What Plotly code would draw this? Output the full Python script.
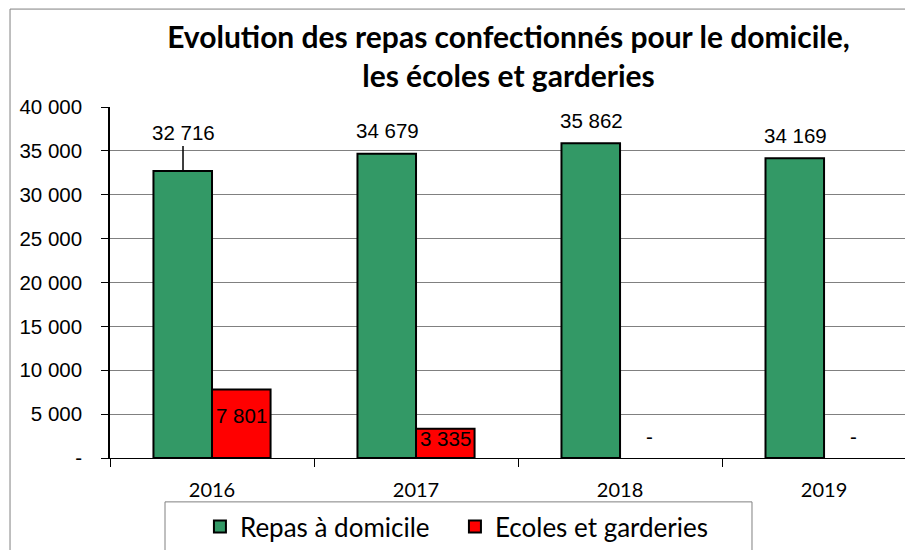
import plotly.graph_objects as go

years = ["2016", "2017", "2018", "2019"]
repas_domicile = [32716, 34679, 35862, 34169]
ecoles_garderies = [7801, 3335, 0, 0]
y_ticks = [0, 5000, 10000, 15000, 20000, 25000, 30000, 35000, 40000]


def fmt(v):
    return "-" if v == 0 else f"{v:,}".replace(",", " ")


GREEN = "#339966"
RED = "#FF0000"
ARIAL = "Liberation Sans, Arial"
CAL = "Lato, Open Sans"

fig = go.Figure()
fig.add_trace(go.Bar(x=years, y=repas_domicile, name="Repas à domicile",
                     marker=dict(color=GREEN, line=dict(color="black", width=2))))
fig.add_trace(go.Bar(x=years, y=ecoles_garderies, name="Ecoles et garderies",
                     marker=dict(color=RED, line=dict(color="black",
                                                      width=[2 if v else 0 for v in ecoles_garderies]))))

lab_font = dict(family=ARIAL, size=20.5, color="black")
annots = []
# green labels (above bars); first one with leader line
for i, v in enumerate(repas_domicile):
    if i == 0:
        annots.append(dict(x=i, y=v, xref="x", yref="y", xshift=-29, text=fmt(v),
                           showarrow=True, arrowhead=0, arrowwidth=1.5, arrowcolor="black",
                           ax=0, ay=-38, standoff=0, font=lab_font))
    else:
        annots.append(dict(x=i, y=v, xref="x", yref="y", xshift=-29, yshift=23,
                           text=fmt(v), showarrow=False, yanchor="middle", font=lab_font))
red_shift = [-26, -10, 22, 22]
for i, (v, s) in enumerate(zip(ecoles_garderies, red_shift)):
    annots.append(dict(x=i, y=v, xref="x", yref="y", xshift=29, yshift=s, text=fmt(v),
                       showarrow=False, yanchor="middle", font=lab_font))

fig.update_layout(
    width=905, height=542,
    margin=dict(l=102, r=0, t=99, b=91),
    paper_bgcolor="white", plot_bgcolor="white",
    barmode="group", bargap=0.426, bargroupgap=0,
    title=dict(text="<b>Evolution des repas confectionnés pour le domicile,<br>les écoles et garderies</b>",
               x=0.553, xanchor="center", y=0.927, yanchor="middle",
               font=dict(family=CAL, size=30, color="black")),
    xaxis=dict(type="category", range=[-0.5, 3.436], tickson="boundaries", ticks="outside",
               ticklen=8, tickcolor="black", showline=True, linecolor="black", linewidth=1,
               tickfont=dict(family=CAL, size=20, color="black"), ticklabelstandoff=14,
               showgrid=False),
    yaxis=dict(range=[0, 40000], tickvals=y_ticks, ticktext=[fmt(v) for v in y_ticks],
               ticks="outside", ticklen=7, tickcolor="black", showline=True,
               linecolor="black", linewidth=1.5, gridcolor="#808080", gridwidth=1,
               tickfont=dict(family=ARIAL, size=20.5, color="black"), ticklabelstandoff=15,
               zeroline=False),
    legend=dict(orientation="h", x=0.112, xanchor="left", y=-0.196, yanchor="middle",
                borderwidth=0, bgcolor="rgba(0,0,0,0)",
                font=dict(family=CAL, size=26, color="black"), entrywidth=210,
                itemwidth=30),
    annotations=annots,
    shapes=[
        dict(type="rect", xref="paper", yref="paper", x0=-0.1245, y0=-0.4,
             x1=1.1, y1=1.279, line=dict(color="#808080", width=1)),
        dict(type="rect", xref="paper", yref="paper", x0=0.0685, y0=-0.4,
             x1=0.7995, y1=-0.125, line=dict(color="#808080", width=1)),
    ],
    showlegend=True,
)

fig.write_html("out.html")
